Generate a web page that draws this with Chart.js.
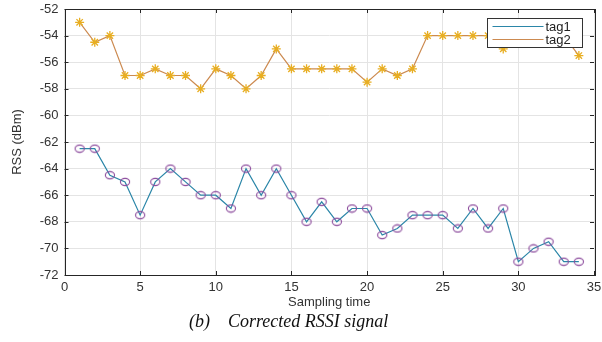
<!DOCTYPE html>
<html>
<head>
<meta charset="utf-8">
<script src="https://cdn.jsdelivr.net/npm/chart.js@4/dist/chart.umd.min.js"></script>
<style>
html,body{margin:0;padding:0;background:#fff;}
canvas{display:block;}
</style>
</head>
<body>
<canvas id="c" width="602" height="342"></canvas>
<script>
const samplingTime = [1,2,3,4,5,6,7,8,9,10,11,12,13,14,15,16,17,18,19,20,21,22,23,24,25,26,27,28,29,30,31,32,33,34];
const tag1 = [-62.5,-62.5,-64.5,-65,-67.5,-65,-64,-65,-66,-66,-67,-64,-66,-64,-66,-68,-66.5,-68,-67,-67,-69,-68.5,-67.5,-67.5,-67.5,-68.5,-67,-68.5,-67,-71,-70,-69.5,-71,-71];
const tag2 = [-53,-54.5,-54,-57,-57,-56.5,-57,-57,-58,-56.5,-57,-58,-57,-55,-56.5,-56.5,-56.5,-56.5,-56.5,-57.5,-56.5,-57,-56.5,-54,-54,-54,-54,-54,-55,-54,-54,-54,-54,-55.5];
const seriesNames = ['tag1','tag2'];
const xTitle = 'Sampling time';
const yTitle = 'RSS (dBm)';
const caption = '(b)    Corrected RSSI signal';

const tag1Line = '#2b86a8';
const tag1Marker = '#8b4a9c';
const tag2Line = '#cc8a50';
const tag2Marker = '#e8ae22';

// ellipse marker
const ell = document.createElement('canvas');
ell.width = 12; ell.height = 10;
(function(){
  const g = ell.getContext('2d');
  g.strokeStyle = tag1Marker; g.lineWidth = 1.1;
  g.beginPath(); g.ellipse(6,5,4.6,3.6,0,0,Math.PI*2); g.stroke();
})();

const toPts = (ys) => ys.map((y,i)=>({x:samplingTime[i], y:y}));

const framePlugin = {
  id:'frame',
  afterDraw(chart){
    const {ctx, chartArea:a, scales} = chart;
    ctx.save();
    ctx.strokeStyle = '#262626';
    ctx.lineWidth = 1;
    ctx.strokeRect(Math.round(a.left)+0.5, Math.round(a.top)+0.5, Math.round(a.right-a.left), Math.round(a.bottom-a.top));
    // inward ticks
    const tl = 4;
    ctx.beginPath();
    scales.x.ticks.forEach(t=>{
      const px = Math.round(scales.x.getPixelForValue(t.value))+0.5;
      ctx.moveTo(px,a.bottom); ctx.lineTo(px,a.bottom-tl);
      ctx.moveTo(px,a.top); ctx.lineTo(px,a.top+tl);
    });
    scales.y.ticks.forEach(t=>{
      const py = Math.round(scales.y.getPixelForValue(t.value))+0.5;
      ctx.moveTo(a.left,py); ctx.lineTo(a.left+tl,py);
      ctx.moveTo(a.right,py); ctx.lineTo(a.right-tl,py);
    });
    ctx.stroke();
    // legend
    const bx = Math.round(a.right-107)+0.5, by = Math.round(a.top+9)+0.5, bw = 95, bh = 29;
    ctx.fillStyle = '#fff';
    ctx.fillRect(bx,by,bw,bh);
    ctx.strokeStyle = '#333';
    ctx.strokeRect(bx,by,bw,bh);
    const cols = [tag1Line, tag2Line];
    ctx.font = '13px "Liberation Sans", Arial, sans-serif';
    ctx.textBaseline = 'middle';
    ctx.textAlign = 'left';
    seriesNames.forEach((n,i)=>{
      const yy = by + 8 + i*13;
      ctx.strokeStyle = cols[i]; ctx.lineWidth = 1;
      ctx.beginPath(); ctx.moveTo(bx+5,yy); ctx.lineTo(bx+56,yy); ctx.stroke();
      ctx.fillStyle = '#222';
      ctx.fillText(n, bx+58, yy+0.5);
    });
    // caption
    ctx.font = 'italic 18px "Liberation Serif", "Times New Roman", serif';
    ctx.fillStyle = '#111';
    ctx.textAlign = 'left';
    ctx.textBaseline = 'middle';
    ctx.fillText(caption, 189, 322);
    ctx.restore();
  }
};

new Chart(document.getElementById('c'), {
  type:'line',
  data:{
    datasets:[
      {label:seriesNames[0], data:toPts(tag1), borderColor:tag1Line, borderWidth:1.2, pointStyle:ell, pointRadius:5, pointBorderColor:tag1Marker, tension:0, fill:false},
      {label:seriesNames[1], data:toPts(tag2), borderColor:tag2Line, borderWidth:1.2, pointStyle:'star', pointRadius:4.5, pointBorderColor:tag2Marker, pointBorderWidth:1.3, tension:0, fill:false}
    ]
  },
  options:{
    responsive:false,
    animation:false,
    events:[],
    layout:{padding:{left:0,right:8,top:9,bottom:32}},
    plugins:{legend:{display:false}, tooltip:{enabled:false}, title:{display:false}},
    scales:{
      x:{
        type:'linear', min:0, max:35,
        afterFit(s){ s.height = 35; s.paddingLeft = 0; s.paddingRight = 0; },
        ticks:{stepSize:5, padding:5, color:'#333', font:{family:'"Liberation Sans", Arial, sans-serif', size:13}},
        grid:{color:'#e4e4e4', drawTicks:false},
        border:{display:false},
        title:{display:true, text:xTitle, color:'#333', padding:{top:0,bottom:0}, font:{family:'"Liberation Sans", Arial, sans-serif', size:13}}
      },
      y:{
        min:-72, max:-52,
        afterFit(s){ s.width = 64.5; s.paddingTop = 0; s.paddingBottom = 0; },
        ticks:{stepSize:2, padding:6, color:'#333', font:{family:'"Liberation Sans", Arial, sans-serif', size:13}},
        grid:{color:'#e4e4e4', drawTicks:false},
        border:{display:false},
        title:{display:true, text:yTitle, color:'#333', padding:{top:10,bottom:0}, font:{family:'"Liberation Sans", Arial, sans-serif', size:13}}
      }
    }
  },
  plugins:[framePlugin]
});
</script>
</body>
</html>
